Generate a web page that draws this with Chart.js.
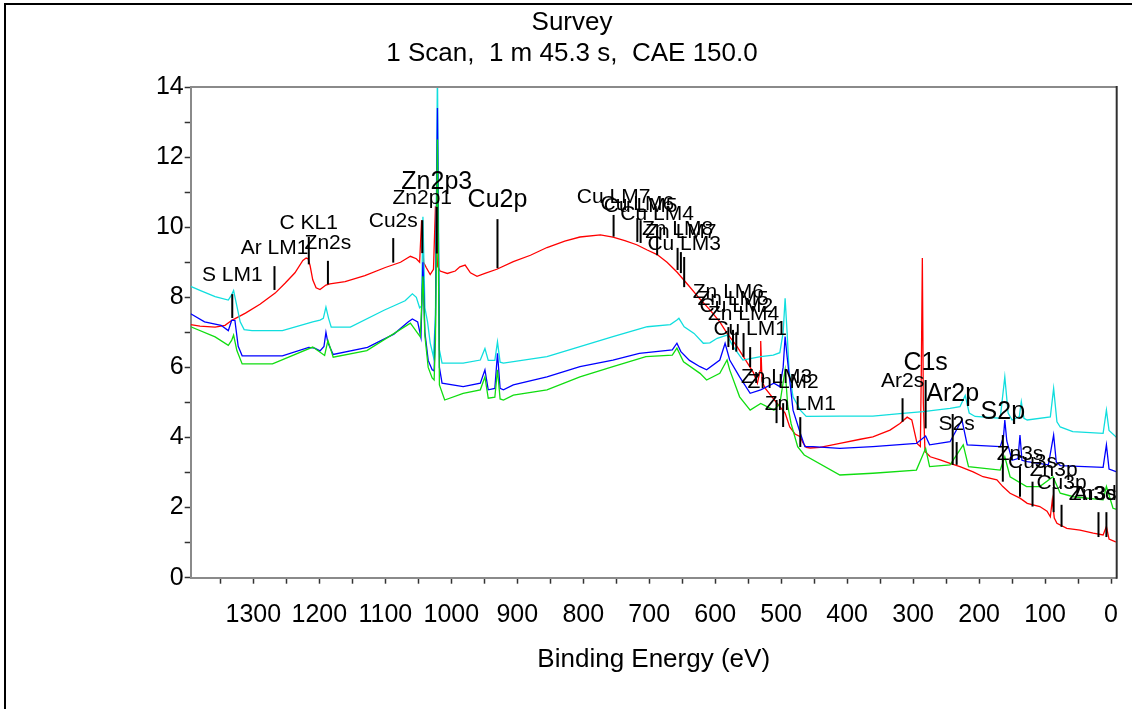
<!DOCTYPE html>
<html><head><meta charset="utf-8">
<script src="https://cdn.jsdelivr.net/npm/chart.js@4.4.1/dist/chart.umd.min.js"></script>
<style>
html,body{margin:0;padding:0;background:#fff;}
#wrap{position:absolute;left:0;top:0;width:1132px;height:709px;overflow:hidden;}
#frame{position:absolute;left:4px;top:3px;width:1130px;height:708px;border-top:2px solid #000;border-left:2px solid #000;pointer-events:none;}
canvas{position:absolute;left:0;top:0;}
</style></head><body>
<div id="wrap"><canvas id="c" width="1132" height="709"></canvas><div id="frame"></div></div>
<script>
const titleLines = ['Survey', '1 Scan,  1 m 45.3 s,  CAE 150.0'];
const xAxisTitle = 'Binding Energy (eV)';
const xTicks = [0,50,100,150,200,250,300,350,400,450,500,550,600,650,700,750,800,850,900,950,1000,1050,1100,1150,1200,1250,1300,1350];
const yTicks = [0,1,2,3,4,5,6,7,8,9,10,11,12,13,14];

// [binding energy (eV), intensity]
const redSpectrum = [[1395,7.22],[1381,7.18],[1358,7.15],[1343,7.2],[1332,7.35],[1312,7.55],[1290,7.8],[1267,8.12],[1252,8.4],[1237,8.7],[1225,9.05],[1220,9.12],[1217,9.1],[1214,8.9],[1210,8.5],[1205,8.27],[1199,8.22],[1190,8.35],[1184,8.38],[1161,8.45],[1131,8.62],[1100,8.85],[1077,9.0],[1062,9.17],[1053,9.1],[1048,9.0],[1045,10.2],[1042,9.0],[1038,8.85],[1032,8.65],[1027,8.8],[1024,10.6],[1021,8.9],[1017,8.75],[1006,8.68],[994,8.75],[987,8.87],[979,8.92],[971,8.7],[961,8.6],[949,8.68],[931,8.8],[906,9.02],[880,9.2],[855,9.42],[828,9.6],[805,9.72],[774,9.78],[755,9.72],[737,9.62],[719,9.5],[703,9.35],[688,9.22],[673,9.0],[658,8.72],[641,8.35],[623,7.95],[608,7.64],[593,7.3],[582,6.97],[567,6.6],[551,6.12],[542,5.85],[536,5.55],[532,5.9],[531,6.75],[529,5.6],[524,5.4],[506,4.97],[494,4.7],[487,4.3],[479,4.1],[471,4.02],[467,3.85],[462,3.72],[456,3.7],[441,3.72],[411,3.83],[380,3.95],[361,4.02],[335,4.21],[320,4.4],[309,4.58],[302,4.5],[294,3.83],[289,3.74],[287.5,6.0],[286,9.12],[284.5,5.0],[282,3.6],[274,3.45],[259,3.36],[244,3.26],[229,3.17],[209,3.02],[194,2.88],[173,2.79],[164,2.6],[153,2.41],[138,2.27],[127,2.12],[108,2.03],[97,1.9],[92,1.74],[89,2.22],[86,1.7],[82,1.55],[67,1.41],[47,1.36],[27,1.27],[12,1.22],[7,1.46],[3,1.1],[-6,1.03],[-8.6,1.02]];

const cyanSpectrum = [[1395,8.31],[1381,8.2],[1358,8.02],[1338,7.92],[1333,8.07],[1330,8.19],[1325,7.75],[1320,7.3],[1314,7.08],[1302,7.05],[1256,7.05],[1210,7.3],[1199,7.35],[1194,7.4],[1190,7.72],[1186,7.4],[1182,7.15],[1153,7.15],[1102,7.63],[1070,7.9],[1059,8.1],[1053,8.0],[1048,7.7],[1045,7.75],[1043,10.3],[1040,7.7],[1036,7.3],[1032,6.7],[1027,6.3],[1024,7.5],[1021,14.5],[1018,6.5],[1014,6.12],[982,6.12],[956,6.21],[949,6.54],[944,6.2],[934,6.2],[930,6.73],[926,6.15],[921,6.12],[855,6.31],[805,6.59],[755,6.88],[703,7.16],[668,7.22],[658,7.35],[655,7.4],[647,7.16],[632,6.97],[618,6.69],[608,6.7],[597,6.83],[582,6.92],[573,6.6],[558,6.21],[547,6.25],[531,6.31],[512,6.35],[502,6.42],[497,7.0],[494,7.97],[491,7.0],[488,5.9],[482,5.16],[471,4.78],[462,4.6],[411,4.61],[361,4.61],[320,4.68],[285,4.74],[244,4.83],[229,4.88],[221,5.2],[215,4.7],[206,4.6],[168,4.55],[161,5.73],[156,4.7],[150,4.5],[139,4.6],[136,5.02],[132,4.55],[127,4.5],[92,4.59],[87,5.4],[82,4.45],[77,4.3],[58,4.17],[12,4.12],[7,4.78],[3,4.2],[-8.6,4.0]];

const blueSpectrum = [[1395,7.53],[1374,7.3],[1349,7.2],[1338,7.05],[1333,7.34],[1328,7.34],[1323,6.6],[1317,6.33],[1256,6.33],[1216,6.57],[1207,6.55],[1199,6.47],[1193,6.6],[1190,7.0],[1187,6.7],[1179,6.37],[1127,6.57],[1087,6.95],[1065,7.3],[1059,7.38],[1051,7.3],[1046,6.86],[1043,9.0],[1040,7.0],[1035,6.2],[1029,5.93],[1026,5.9],[1024,7.2],[1021,13.4],[1018,6.0],[1014,5.55],[982,5.45],[956,5.55],[949,5.93],[944,5.36],[934,5.4],[930,6.4],[926,5.4],[921,5.36],[906,5.5],[855,5.73],[805,6.02],[755,6.21],[715,6.4],[690,6.45],[665,6.5],[658,6.69],[652,6.45],[639,6.2],[623,6.02],[613,5.93],[593,6.21],[585,6.69],[578,6.21],[563,5.73],[547,5.26],[531,5.36],[511,5.55],[502,5.45],[497,6.0],[494,6.88],[491,6.31],[482,4.78],[471,4.12],[464,3.74],[452,3.74],[411,3.69],[361,3.74],[295,3.83],[281,4.04],[275,3.79],[244,3.88],[226,4.5],[218,3.79],[168,3.74],[163,4.02],[161,4.5],[158,3.9],[150,3.35],[141,3.4],[138,4.07],[135,3.35],[127,3.31],[95,3.22],[87,4.07],[83,3.3],[77,3.2],[12,3.15],[7,3.79],[3,3.1],[-8.6,3.02]];

const greenSpectrum = [[1395,7.16],[1358,6.87],[1338,6.63],[1333,6.77],[1330,6.92],[1325,6.48],[1317,6.1],[1271,6.1],[1210,6.58],[1192,6.34],[1187,6.77],[1179,6.29],[1128,6.48],[1062,7.26],[1047,6.87],[1043,8.6],[1040,6.9],[1035,6.0],[1029,5.7],[1026,5.64],[1024,6.8],[1021,12.5],[1018,5.5],[1010,5.07],[982,5.26],[956,5.36],[949,5.73],[944,5.12],[934,5.15],[930,5.93],[926,5.1],[921,5.07],[906,5.21],[855,5.36],[805,5.73],[755,6.02],[705,6.31],[665,6.35],[658,6.55],[648,6.16],[623,5.83],[613,5.64],[593,5.83],[582,6.21],[578,5.93],[563,5.16],[547,4.78],[531,4.97],[511,4.78],[502,4.97],[494,5.93],[490,4.9],[485,4.4],[475,3.74],[465,3.5],[411,2.93],[361,2.98],[295,3.07],[281,3.69],[275,3.17],[244,3.22],[224,3.79],[216,3.17],[168,3.07],[161,3.45],[153,2.88],[128,2.6],[108,2.6],[88,2.88],[77,2.41],[57,2.31],[12,2.22],[7,2.6],[-3,1.98],[-8.6,1.95]];

// [label, binding energy (eV), text baseline, marker top, marker bottom]
const peakLabels = [
 ['S LM1',1332,8.47,8.09,7.41],['Ar LM1',1268,9.24,8.89,8.21],['C KL1',1216,9.95,9.72,8.94],['Zn2s',1187,9.38,9.04,8.37],
 ['Cu2s',1088,10.01,9.69,8.99],['Zn2p1',1044,10.67,10.2,9.26],['Zn2p3',1022,11.1,10.58,9.25],['Cu2p',930,10.58,10.23,8.83],
 ['Cu LM7',754,10.69,10.35,9.73],['Cu LM6',718,10.49,10.26,9.58],['Cu LM5',713,10.43,10.2,9.55],['Cu LM4',688,10.21,9.92,9.2],
 ['Zn LM8',657,9.78,9.41,8.78],['Zn LM7',652,9.69,9.29,8.69],['Cu LM3',647,9.35,9.15,8.29],
 ['Zn LM6',580,7.98,7.15,6.58],['Zn LM5',573,7.78,7.07,6.5],['Cu LM2',568,7.58,7.0,6.45],['Zn LM4',557,7.35,6.98,6.3],['Cu LM1',547,6.92,6.58,6.01],
 ['Zn LM3',507,5.56,5.07,4.41],['Zn LM2',497,5.41,4.98,4.3],['Zn LM1',471,4.79,4.58,3.73],
 ['Ar2s',316,5.44,5.12,4.45],['C1s',281,5.93,5.64,4.26],['Ar2p',240,5.04,4.67,3.22],['S2s',234,4.21,3.87,3.22],
 ['S2p',164,4.53,4.07,2.74],['Zn3s',138,3.36,3.17,2.31],['Cu3s',119,3.13,2.74,2.03],['Zn3p',87,2.9,2.59,1.87],
 ['Cu3p',75,2.53,2.08,1.45],['Ar3s',19,2.22,1.87,1.16],['Zn3d',7,2.22,1.87,1.16]
];

const FONT = '"Liberation Sans", Arial, sans-serif';
const bigLabels = ['Zn2p3','Cu2p','C1s','Ar2p','S2p'];

const peakLabelPlugin = {
  id: 'peakLabels',
  afterDatasetsDraw(chart) {
    const {ctx, chartArea: a, scales: {x, y}} = chart;
    ctx.save();
    peakLabels.forEach(([name, be, tb, top, bot]) => {
      const px = x.getPixelForValue(be), pt = y.getPixelForValue(top), pb = y.getPixelForValue(bot);
      ctx.strokeStyle = '#000'; ctx.lineWidth = 2;
      ctx.beginPath(); ctx.moveTo(px, pt); ctx.lineTo(px, pb); ctx.stroke();
      const size = bigLabels.includes(name) ? 25 : 21;
      ctx.font = size + 'px ' + FONT;
      ctx.fillStyle = '#000';
      ctx.textAlign = 'left'; ctx.textBaseline = 'alphabetic';
      const w = ctx.measureText(name).width;
      let tx = px - w / 2;
      if (tx + w > a.right) tx = a.right - w;
      ctx.fillText(name, tx, y.getPixelForValue(tb));
    });
    ctx.restore();
  }
};

const framePlugin = {
  id: 'areaFrame',
  afterDraw(chart) {
    const {ctx, chartArea: a} = chart;
    ctx.save();
    ctx.lineWidth = 2;
    ctx.strokeStyle = '#8a8a8a';
    ctx.beginPath(); ctx.moveTo(a.left, a.top); ctx.lineTo(a.right, a.top); ctx.stroke();
    ctx.strokeStyle = '#303030';
    ctx.beginPath(); ctx.moveTo(a.right, a.top - 1); ctx.lineTo(a.right, a.bottom + 1); ctx.stroke();
    ctx.restore();
  }
};

function mk(label, data, color) {
  return {label, data, borderColor: color, backgroundColor: color, borderWidth: 1.3, pointRadius: 0, tension: 0, fill: false};
}

new Chart(document.getElementById('c').getContext('2d'), {
  type: 'line',
  data: {
    datasets: [
      mk('green', greenSpectrum, '#10dd10'),
      mk('blue', blueSpectrum, '#0000ff'),
      mk('cyan', cyanSpectrum, '#10dede'),
      mk('red', redSpectrum, '#ff0000')
    ]
  },
  options: {
    responsive: false,
    animation: false,
    devicePixelRatio: 1,
    layout: {padding: {top: 6.5, right: 15.3, bottom: 0, left: 27.3}},
    plugins: {
      legend: {display: false},
      tooltip: {enabled: false},
      title: {display: true, text: titleLines, color: '#000',
        font: {family: FONT, size: 26, weight: 'normal', lineHeight: '31.5px'},
        padding: {top: 0.5, bottom: 17}}
    },
    scales: {
      x: {
        type: 'linear', reverse: true, min: -8.6, max: 1395,
        afterBuildTicks(s) { s.ticks = xTicks.map(v => ({value: v})); },
        afterFit(s) { s.height = 131.3; },
        ticks: {autoSkip: false, maxRotation: 0, color: '#000', padding: 16.5,
          font: {family: FONT, size: 25}, callback: v => (v % 100 === 0 ? String(v) : '')},
        grid: {drawOnChartArea: false, drawTicks: true, tickLength: 6, tickColor: '#333', tickWidth: 1.5},
        border: {display: true, color: '#8a8a8a', width: 2},
        title: {display: true, text: xAxisTitle, color: '#000', font: {family: FONT, size: 26}, padding: {top: 0, bottom: 33.4}}
      },
      y: {
        min: 0, max: 14,
        afterBuildTicks(s) { s.ticks = yTicks.map(v => ({value: v})); },
        afterFit(s) { s.width = 163.4; },
        ticks: {autoSkip: false, color: '#000', padding: 1,
          font: {family: FONT, size: 25}, callback: v => (v % 2 === 0 ? String(v) : '')},
        grid: {drawOnChartArea: false, drawTicks: true, tickLength: 6, tickColor: '#333', tickWidth: 1.5},
        border: {display: true, color: '#8a8a8a', width: 2}
      }
    }
  },
  plugins: [framePlugin, peakLabelPlugin]
});
</script>
</body></html>
